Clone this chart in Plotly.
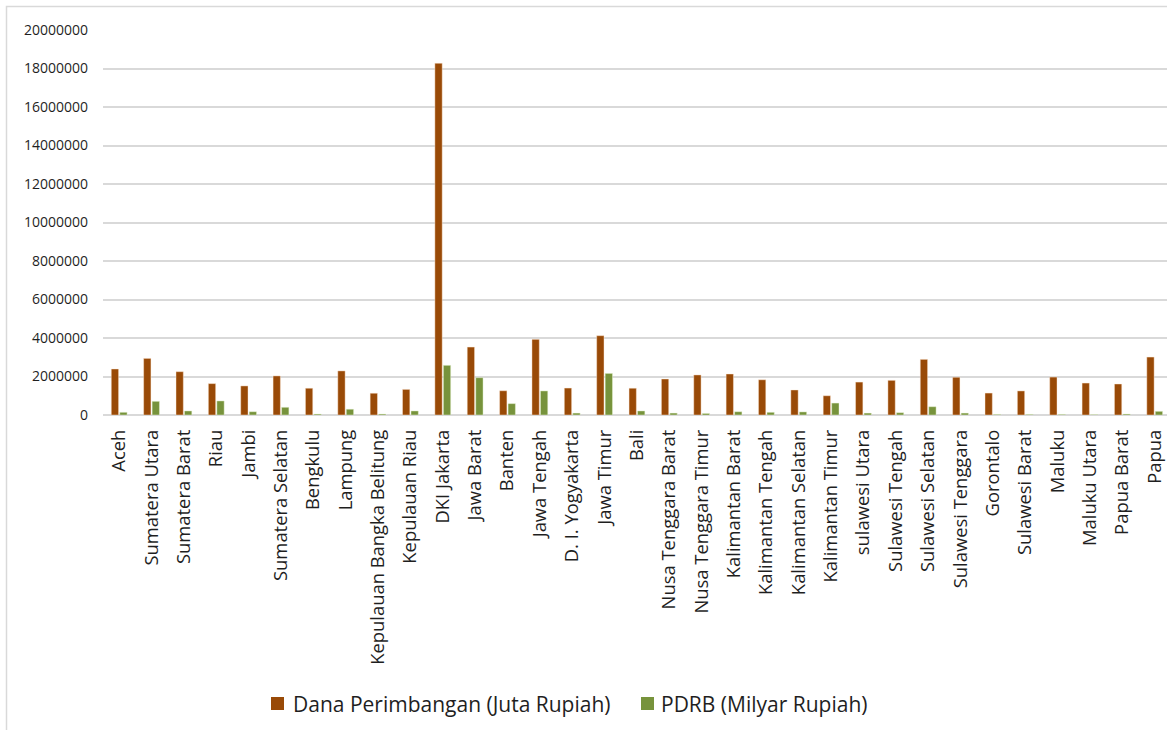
import plotly.graph_objects as go

provinces = [
    "Aceh", "Sumatera Utara", "Sumatera Barat", "Riau", "Jambi",
    "Sumatera Selatan", "Bengkulu", "Lampung", "Kepulauan Bangka Belitung",
    "Kepulauan Riau", "DKI Jakarta", "Jawa Barat", "Banten", "Jawa Tengah",
    "D. I. Yogyakarta", "Jawa Timur", "Bali", "Nusa Tenggara Barat",
    "Nusa Tenggara Timur", "Kalimantan Barat", "Kalimantan Tengah",
    "Kalimantan Selatan", "Kalimantan Timur", "sulawesi Utara",
    "Sulawesi Tengah", "Sulawesi Selatan", "Sulawesi Tenggara", "Gorontalo",
    "Sulawesi Barat", "Maluku", "Maluku Utara", "Papua Barat", "Papua",
]

# Dana Perimbangan (Juta Rupiah)
dana_perimbangan = [
    2390000, 2940000, 2250000, 1630000, 1510000, 2030000, 1390000, 2290000,
    1130000, 1330000, 18270000, 3530000, 1260000, 3930000, 1400000, 4120000,
    1390000, 1870000, 2080000, 2130000, 1830000, 1300000, 1000000, 1710000,
    1800000, 2890000, 1960000, 1140000, 1250000, 1970000, 1660000, 1610000,
    3010000,
]

# PDRB (Milyar Rupiah)
pdrb = [
    140000, 710000, 210000, 730000, 170000, 400000, 50000, 300000,
    50000, 210000, 2580000, 1940000, 590000, 1250000, 100000, 2160000,
    210000, 100000, 80000, 170000, 140000, 160000, 620000, 100000,
    120000, 430000, 100000, 30000, 30000, 30000, 20000, 50000,
    190000,
]

series_names = ["Dana Perimbangan (Juta Rupiah)", "PDRB (Milyar Rupiah)"]
series_colors = ["#994A07", "#77933C"]

y_ticks = [0, 2000000, 4000000, 6000000, 8000000, 10000000,
           12000000, 14000000, 16000000, 18000000, 20000000]

FONT = "Open Sans"
TEXT = "#1f1f1f"
GRID = "#d9d9d9"

fig = go.Figure()
for name, values, color, edge in zip(
        series_names, [dana_perimbangan, pdrb], series_colors,
        ["rgba(255,235,215,0.55)", "rgba(235,245,215,0.55)"]):
    fig.add_trace(go.Bar(
        x=provinces, y=values, name=name, showlegend=False,
        marker=dict(color=color, line=dict(color=edge, width=0.8)),
    ))

# plot area spans px 103..1167 horizontally, 30..415 vertically
L, R, T, B = 103, 0, 30, 315
W, H = 1167, 730
pw, ph = W - L - R, H - T - B


def px_x(p):
    return (p - L) / pw


def px_y(p):
    return (H - B - p) / ph


# legend drawn as swatches + labels below the category labels
legend_items = [(271, 291), (641, 659)]
shapes = [
    # chart-area frame
    dict(type="rect", xref="paper", yref="paper",
         x0=px_x(6.5), x1=px_x(1300), y0=px_y(900), y1=px_y(6.5),
         line=dict(color=GRID, width=1.5), fillcolor="rgba(0,0,0,0)",
         layer="below"),
]
annotations = []
for (sx, tx), name, color in zip(legend_items, series_names, series_colors):
    shapes.append(dict(
        type="rect", xref="paper", yref="paper",
        x0=px_x(sx), x1=px_x(sx + 13), y0=px_y(710), y1=px_y(697),
        line=dict(width=0), fillcolor=color,
    ))
    annotations.append(dict(
        text=name, xref="paper", yref="paper",
        x=px_x(tx), y=px_y(703.5), xanchor="left", yanchor="middle",
        showarrow=False, font=dict(family=FONT, size=21, color=TEXT),
    ))

fig.update_layout(
    width=W, height=H,
    margin=dict(l=L, r=R, t=T, b=B, pad=0),
    paper_bgcolor="white", plot_bgcolor="white",
    barmode="group", bargap=0.475, bargroupgap=0.14,
    font=dict(family=FONT, color=TEXT),
    showlegend=False,
    xaxis=dict(
        type="category", range=[-0.5, 32.38],
        tickangle=-90, tickfont=dict(family=FONT, size=18.4, color=TEXT),
        showgrid=False, showline=False, ticks="", ticklabelstandoff=10,
        fixedrange=True, automargin=False,
    ),
    yaxis=dict(
        range=[0, 20000000], tickvals=y_ticks,
        ticktext=[str(v) for v in y_ticks],
        tickfont=dict(family=FONT, size=14, color=TEXT),
        showgrid=True, gridcolor=GRID, gridwidth=1.5,
        zeroline=True, zerolinecolor=GRID, zerolinewidth=1.5,
        showline=False, ticks="", ticklabelstandoff=14,
        fixedrange=True, automargin=False,
    ),
    shapes=shapes,
    annotations=annotations,
)

fig.write_html("out.html")
